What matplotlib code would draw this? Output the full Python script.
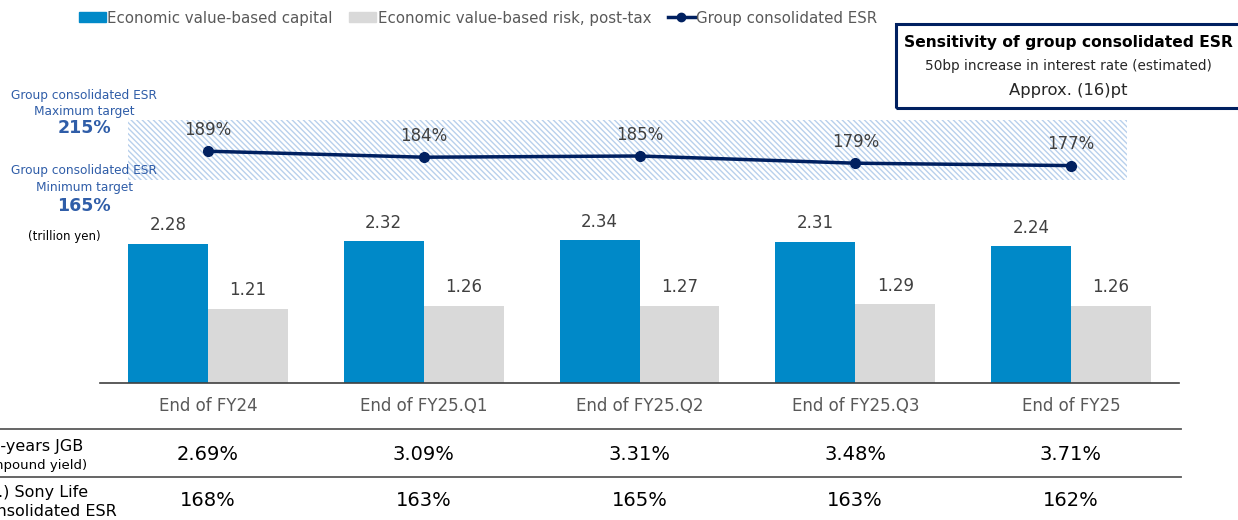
import matplotlib.pyplot as plt
from matplotlib.patches import Rectangle, Patch
from matplotlib.lines import Line2D

# Data
categories = ['End of FY24', 'End of FY25.Q1', 'End of FY25.Q2', 'End of FY25.Q3', 'End of FY25']
capital = [2.28, 2.32, 2.34, 2.31, 2.24]
risk = [1.21, 1.26, 1.27, 1.29, 1.26]
esr = [189, 184, 185, 179, 177]
jgb_yield = ['2.69%', '3.09%', '3.31%', '3.48%', '3.71%']
sony_life_esr = ['168%', '163%', '165%', '163%', '162%']
esr_max, esr_min = 215, 165

blue = '#0089c8'
gray = '#d9d9d9'
navy = '#002060'
label_blue = '#2f5da8'
txt = '#404040'

W, H = 1238, 520
fig = plt.figure(figsize=(W / 100, H / 100), dpi=100)

def fx(px):
    return px / W

def fy(py):
    return 1 - py / H

# main axes: x from px 100 to 1179, y from px 383 (0) up to px 60
left, right, bottom, top = 100, 1179, 383, 60
ax = fig.add_axes([fx(left), fy(bottom), fx(right) - fx(left), fy(top) - fy(bottom)])
ax.set_xlim(-0.5, 4.5)
ax.set_ylim(0, (bottom - top) / 61.0)

x = list(range(len(categories)))
bw = 0.37
ax.bar([i - bw / 2 for i in x], capital, width=bw, color=blue, zorder=2)
ax.bar([i + bw / 2 for i in x], risk, width=bw, color=gray, zorder=2)
for i in x:
    ax.annotate(f'{capital[i]:.2f}', (i - bw / 2, capital[i]), xytext=(0, 7),
                textcoords='offset points', ha='center', va='bottom', fontsize=12, color=txt)
    ax.annotate(f'{risk[i]:.2f}', (i + bw / 2, risk[i]), xytext=(0, 7),
                textcoords='offset points', ha='center', va='bottom', fontsize=12, color=txt)

for s in ['top', 'right', 'left']:
    ax.spines[s].set_visible(False)
ax.spines['bottom'].set_color('#404040')
ax.spines['bottom'].set_linewidth(1.2)
ax.set_yticks([])
ax.set_xticks(x)
ax.set_xticklabels(categories, fontsize=12, color='#595959')
ax.tick_params(axis='x', length=0, pad=10)

# ESR twin axis: 215% at px 120, 165% at px 180
ax2 = ax.twinx()
ppp = (180 - 120) / (esr_max - esr_min)
ax2.set_ylim(esr_max - (bottom - 120) / ppp, esr_max + (120 - top) / ppp)
ax2.axis('off')
band_l = -bw
band_r = (1127 - 208) / 215.7
ax2.add_patch(Rectangle((band_l, esr_min), band_r - band_l, esr_max - esr_min,
                        facecolor='white', edgecolor='#b8d0ec', hatch='\\\\\\\\\\\\',
                        linewidth=0, zorder=1))
ax2.plot(x, esr, color=navy, linewidth=2.5, marker='o', markersize=7, zorder=3)
for i in x:
    ax2.annotate(f'{esr[i]}%', (i, esr[i]), xytext=(0, 9), textcoords='offset points',
                 ha='center', va='bottom', fontsize=12, color=txt)

# legend
handles = [Patch(color=blue), Patch(color=gray),
           Line2D([0], [0], color=navy, marker='o', linewidth=2.5, markersize=6)]
labels = ['Economic value-based capital', 'Economic value-based risk, post-tax',
          'Group consolidated ESR']
fig.legend(handles, labels, loc='center', bbox_to_anchor=(fx(478), fy(18)), ncol=3,
           frameon=False, fontsize=10.8, handlelength=1.8, handleheight=0.6,
           handletextpad=0.1, columnspacing=1.1, labelcolor='#595959')

# sensitivity box
fig.patches.append(Rectangle((fx(896), fy(108)), fx(360), fy(24) - fy(108),
                             transform=fig.transFigure, fill=False,
                             edgecolor=navy, linewidth=2.2))
fig.text(fx(1068), fy(42), 'Sensitivity of group consolidated ESR', ha='center',
         va='center', fontsize=11.2, fontweight='bold', color='black')
fig.text(fx(1068), fy(66), '50bp increase in interest rate (estimated)', ha='center',
         va='center', fontsize=9.8, color='#262626')
fig.text(fx(1068), fy(90), 'Approx. (16)pt', ha='center', va='center',
         fontsize=11.8, color='#262626')

# target labels
fig.text(fx(84), fy(96), 'Group consolidated ESR', ha='center', va='center', fontsize=8.7, color=label_blue)
fig.text(fx(84), fy(111), 'Maximum target', ha='center', va='center', fontsize=8.7, color=label_blue)
fig.text(fx(84), fy(128), f'{esr_max}%', ha='center', va='center', fontsize=12.5,
         fontweight='bold', color=label_blue)
fig.text(fx(84), fy(171), 'Group consolidated ESR', ha='center', va='center', fontsize=8.7, color=label_blue)
fig.text(fx(84), fy(187), 'Minimum target', ha='center', va='center', fontsize=8.7, color=label_blue)
fig.text(fx(84), fy(206), f'{esr_min}%', ha='center', va='center', fontsize=12.5,
         fontweight='bold', color=label_blue)
fig.text(fx(64), fy(237), '(trillion yen)', ha='center', va='center', fontsize=8.5, color='black')

# table below (row labels run off the left edge as in the source)
for py in (429, 477):
    fig.add_artist(Line2D([0, fx(1181)], [fy(py), fy(py)], transform=fig.transFigure,
                          color='#595959', linewidth=1.3))
fig.text(fx(83), fy(447), '10-years JGB', ha='right', va='center', fontsize=11.5, color='black')
fig.text(fx(87), fy(466), '(compound yield)', ha='right', va='center', fontsize=9.5, color='black')
fig.text(fx(88), fy(492), '(Ref.) Sony Life', ha='right', va='center', fontsize=11.5, color='black')
fig.text(fx(117), fy(511), 'consolidated ESR', ha='right', va='center', fontsize=11.5, color='black')
for i in x:
    cx = 208 + 215.7 * i
    fig.text(fx(cx), fy(455), jgb_yield[i], ha='center', va='center', fontsize=14, color='black')
    fig.text(fx(cx), fy(500), sony_life_esr[i], ha='center', va='center', fontsize=14, color='black')

fig.savefig('out.png', dpi=100)
